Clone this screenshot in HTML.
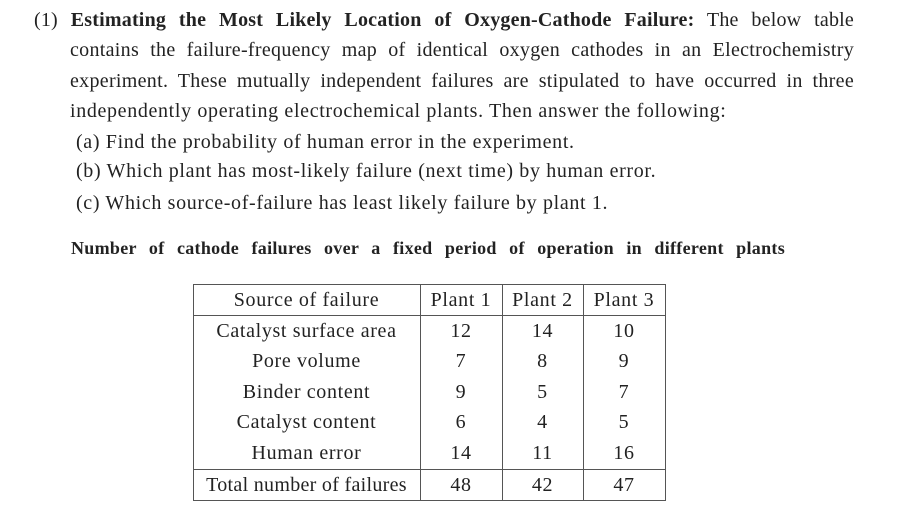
<!DOCTYPE html>
<html><head><meta charset="utf-8"><style>
body{margin:0;background:#fff;width:908px;height:521px;position:relative;overflow:hidden;font-family:"Liberation Serif",serif;color:#222;font-size:20px;letter-spacing:0.65px}
.l{position:absolute;white-space:nowrap;line-height:22px}
.j{text-align:justify;text-align-last:justify;white-space:normal}
.c{position:absolute;text-align:center;line-height:22px;white-space:nowrap}
.h{position:absolute;background:#555;height:1px}
.v{position:absolute;background:#555;width:1px}
</style></head><body>
<div class="l j" style="left:34px;top:9px;width:820px;letter-spacing:0.2px">(1) <b>Estimating the Most Likely Location of Oxygen-Cathode Failure:</b> The below table</div>
<div class="l j" style="left:70px;top:39px;width:784px;letter-spacing:0.3px">contains the failure-frequency map of identical oxygen cathodes in an Electrochemistry</div>
<div class="l j" style="left:70px;top:70px;width:784px;letter-spacing:0.3px">experiment. These mutually independent failures are stipulated to have occurred in three</div>
<div class="l" style="left:70px;top:100px">independently operating electrochemical plants. Then answer the following:</div>
<div class="l" style="left:76px;top:131px">(a) Find the probability of human error in the experiment.</div>
<div class="l" style="left:76px;top:160px">(b) Which plant has most-likely failure (next time) by human error.</div>
<div class="l" style="left:76px;top:192px">(c) Which source-of-failure has least likely failure by plant 1.</div>
<div class="l j" style="left:71px;top:237px;width:714px;font-weight:bold;font-size:18px;letter-spacing:0.3px">Number of cathode failures over a fixed period of operation in different plants</div>

<div class="h" style="left:193px;top:284px;width:473px"></div>
<div class="h" style="left:193px;top:315px;width:473px"></div>
<div class="h" style="left:193px;top:469px;width:473px"></div>
<div class="h" style="left:193px;top:500px;width:473px"></div>
<div class="v" style="left:193px;top:284px;height:217px"></div>
<div class="v" style="left:420px;top:284px;height:217px"></div>
<div class="v" style="left:502px;top:284px;height:217px"></div>
<div class="v" style="left:583px;top:284px;height:217px"></div>
<div class="v" style="left:665px;top:284px;height:217px"></div>

<div class="c" style="left:193px;width:227px;top:289px">Source of failure</div>
<div class="c" style="left:420px;width:82px;top:289px">Plant 1</div>
<div class="c" style="left:502px;width:81px;top:289px">Plant 2</div>
<div class="c" style="left:583px;width:82px;top:289px">Plant 3</div>

<div class="c" style="left:193px;width:227px;top:320px">Catalyst surface area</div>
<div class="c" style="left:420px;width:82px;top:320px">12</div>
<div class="c" style="left:502px;width:81px;top:320px">14</div>
<div class="c" style="left:583px;width:82px;top:320px">10</div>

<div class="c" style="left:193px;width:227px;top:350px">Pore volume</div>
<div class="c" style="left:420px;width:82px;top:350px">7</div>
<div class="c" style="left:502px;width:81px;top:350px">8</div>
<div class="c" style="left:583px;width:82px;top:350px">9</div>

<div class="c" style="left:193px;width:227px;top:381px">Binder content</div>
<div class="c" style="left:420px;width:82px;top:381px">9</div>
<div class="c" style="left:502px;width:81px;top:381px">5</div>
<div class="c" style="left:583px;width:82px;top:381px">7</div>

<div class="c" style="left:193px;width:227px;top:411px">Catalyst content</div>
<div class="c" style="left:420px;width:82px;top:411px">6</div>
<div class="c" style="left:502px;width:81px;top:411px">4</div>
<div class="c" style="left:583px;width:82px;top:411px">5</div>

<div class="c" style="left:193px;width:227px;top:442px">Human error</div>
<div class="c" style="left:420px;width:82px;top:442px">14</div>
<div class="c" style="left:502px;width:81px;top:442px">11</div>
<div class="c" style="left:583px;width:82px;top:442px">16</div>

<div class="c" style="left:193px;width:227px;top:474px;letter-spacing:0.3px">Total number of failures</div>
<div class="c" style="left:420px;width:82px;top:474px">48</div>
<div class="c" style="left:502px;width:81px;top:474px">42</div>
<div class="c" style="left:583px;width:82px;top:474px">47</div>
</body></html>
